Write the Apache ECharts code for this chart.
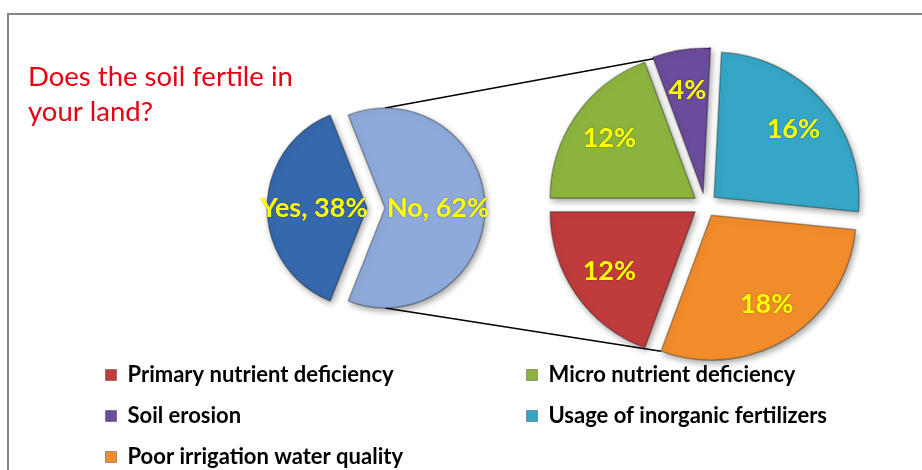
<!DOCTYPE html>
<html>
<head>
<meta charset="utf-8">
<title>Does the soil fertile in your land?</title>
<script src="https://cdn.jsdelivr.net/npm/echarts@6/dist/echarts.min.js"></script>
<style>
  html, body { margin: 0; padding: 0; background: #fff; }
  #main { width: 922px; height: 470px; }
</style>
</head>
<body>
<div id="main"></div>
<script>
// left pie: is the soil fertile?
const fertileNames = ['Yes', 'No']
const fertileValues = [38, 62]
// right pie: reasons behind the "No" answers (percent of all answers)
const causeNames = [
  'Primary nutrient deficiency',
  'Micro nutrient deficiency',
  'Soil erosion',
  'Usage of inorganic fertilizers',
  'Poor irrigation water quality'
]
const causeValues = [12, 12, 4, 16, 18]

const fertileColors = ['#3568ad', '#8eaadb']
const causeColors = ['#c03b3b', '#8db33f', '#6b4c9c', '#35a6c6', '#f28c2a']
const labelYellow = '#ffff00'
const font = 'Lato'

const leftCenter = [376, 208]
const leftRadius = 100
const leftOffset = 9
const rightCenter = [705, 205]
const rightRadius = 145
const rightOffset = 12

const sum = arr => arr.reduce((a, b) => a + b, 0)
// "Yes" centred on the left side, the breakdown starts at 9 o'clock
const leftStart = 180 + fertileValues[0] / sum(fertileValues) * 180
const rightStart = 180 + causeValues[0] / sum(causeValues) * 360

const sliceStyle = color => ({
  color: color,
  borderColor: 'rgba(0,0,0,0.3)',
  borderWidth: 1.5,
  shadowBlur: 6,
  shadowColor: 'rgba(0,0,0,0.35)',
  shadowOffsetX: 2,
  shadowOffsetY: 3
})

const labelStyle = size => ({
  show: true,
  position: 'inside',
  color: labelYellow,
  fontFamily: font,
  fontWeight: 'bold',
  fontSize: size,
  textBorderWidth: 0,
  textShadowColor: 'rgba(0,0,0,0.35)',
  textShadowBlur: 2
})

const legendText = {
  fontFamily: font,
  fontWeight: 'bold',
  fontSize: 22,
  color: '#000',
  padding: [0, 0, 0, 6]
}
const legendItems = idx => idx.map(i => ({
  name: causeNames[i],
  itemStyle: { color: causeColors[i], borderColor: 'rgba(0,0,0,0.3)', borderWidth: 1 }
}))
const legendBase = {
  orient: 'vertical',
  top: 364,
  height: 110,
  padding: 0,
  icon: 'rect',
  itemWidth: 11,
  itemHeight: 11,
  itemGap: 19,
  selectedMode: false,
  textStyle: legendText
}

const chart = echarts.init(document.getElementById('main'))

chart.setOption({
  backgroundColor: '#fff',
  animation: false,
  title: {
    text: 'Does the soil fertile in\nyour land?',
    left: 23,
    top: 55,
    textStyle: {
      fontFamily: font,
      fontSize: 27.5,
      fontWeight: 'normal',
      color: '#e60012',
      lineHeight: 35
    }
  },
  legend: [
    Object.assign({ left: 105, data: legendItems([0, 2, 4]) }, legendBase),
    Object.assign({ left: 526, data: legendItems([1, 3]) }, legendBase)
  ],
  series: [{
    name: 'fertile',
    type: 'pie',
    center: leftCenter,
    radius: leftRadius,
    startAngle: leftStart,
    selectedMode: 'multiple',
    selectedOffset: leftOffset,
    emphasis: { disabled: true },
    label: Object.assign(labelStyle(27), { formatter: '{b}, {d}%' }),
    labelLine: { show: false },
    data: fertileNames.map((n, i) => ({
      name: n,
      value: fertileValues[i],
      selected: true,
      itemStyle: sliceStyle(fertileColors[i])
    }))
  }, {
    name: 'causes',
    type: 'pie',
    center: rightCenter,
    radius: rightRadius,
    startAngle: rightStart,
    selectedMode: 'multiple',
    selectedOffset: rightOffset,
    emphasis: { disabled: true },
    label: { show: false },
    labelLine: { show: false },
    data: causeNames.map((n, i) => ({
      name: n,
      value: causeValues[i],
      selected: true,
      itemStyle: sliceStyle(causeColors[i])
    }))
  }, {
    // same slices, transparent ring: puts the labels further out like in the original
    name: 'causeLabels',
    type: 'pie',
    silent: true,
    center: rightCenter,
    radius: [rightRadius * 0.4, rightRadius],
    startAngle: rightStart,
    selectedMode: 'multiple',
    selectedOffset: rightOffset,
    emphasis: { disabled: true },
    itemStyle: { color: 'transparent', borderWidth: 0 },
    label: Object.assign(labelStyle(27), { formatter: '{c}%' }),
    labelLine: { show: false },
    data: causeNames.map((n, i) => ({ name: n, value: causeValues[i], selected: true }))
  }]
})

// connector lines: taken from the pie layout computed by echarts
function corner(seriesIndex, dataIndex, offset, angle) {
  const data = chart.getModel().getSeriesByIndex(seriesIndex).getData()
  const l = data.getItemLayout(dataIndex)
  const mid = (l.startAngle + l.endAngle) / 2
  const x = l.cx + offset * Math.cos(mid)
  const y = l.cy + offset * Math.sin(mid)
  const a = angle === undefined ? l.endAngle : angle
  return [x + l.r * Math.cos(a), y + l.r * Math.sin(a)]
}
const noTop = corner(0, 1, leftOffset, -Math.PI / 2)
const noBottom = corner(0, 1, leftOffset, Math.PI / 2)
const erosionEnd = corner(1, 2, rightOffset)
const irrigationEnd = corner(1, 4, rightOffset)

chart.setOption({
  graphic: [{
    type: 'rect',
    z: -1,
    shape: { x: 8, y: 14, width: 960, height: 520 },
    style: { fill: 'none', stroke: '#868686', lineWidth: 2 }
  }, {
    type: 'line',
    z: -1,
    shape: { x1: noTop[0], y1: noTop[1], x2: erosionEnd[0], y2: erosionEnd[1] },
    style: { stroke: '#000', lineWidth: 1.5 }
  }, {
    type: 'line',
    z: -1,
    shape: { x1: noBottom[0], y1: noBottom[1], x2: irrigationEnd[0], y2: irrigationEnd[1] },
    style: { stroke: '#000', lineWidth: 1.5 }
  }]
})
</script>
</body>
</html>
